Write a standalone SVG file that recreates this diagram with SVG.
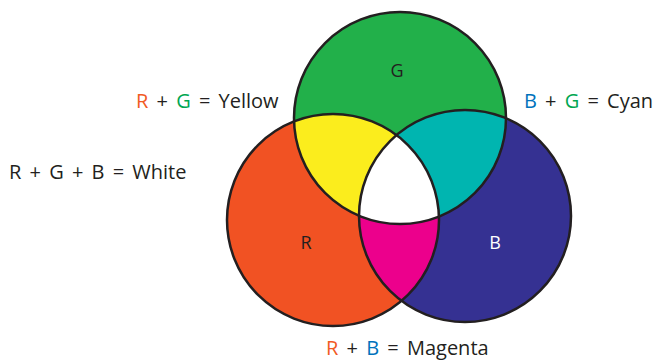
<svg xmlns="http://www.w3.org/2000/svg" width="658" height="361" viewBox="0 0 658 361">
<style>
.t{font-family:"Open Sans","Liberation Sans",sans-serif;font-size:20px;word-spacing:3px;fill:#231f20}
.r{fill:#f15a24}.g{fill:#00a651}.b{fill:#0072bc}
.ring{fill:none;stroke:#231f20;stroke-width:2.5}
.lbl{font-family:"Open Sans","Liberation Sans",sans-serif;font-size:18px;text-anchor:middle}
</style>
<defs>
<clipPath id="cR"><circle cx="333" cy="220" r="106"/></clipPath>
<clipPath id="cG"><circle cx="400" cy="118" r="106"/></clipPath>
<clipPath id="cB"><circle cx="465" cy="216" r="106"/></clipPath>
</defs>
<rect width="658" height="361" fill="#fff"/>
<g id="red"><circle cx="333" cy="220" r="106" fill="#f15223"/></g>
<g id="blue"><circle cx="465" cy="216" r="106" fill="#353192"/></g>
<g id="green"><circle cx="400" cy="118" r="106" fill="#22b04a"/></g>
<g id="yellow" clip-path="url(#cR)"><circle cx="400" cy="118" r="106" fill="#fbed1d"/></g>
<g id="cyan" clip-path="url(#cB)"><circle cx="400" cy="118" r="106" fill="#00b5b0"/></g>
<g id="magenta" clip-path="url(#cR)"><circle cx="465" cy="216" r="106" fill="#ec008c"/></g>
<g id="white" clip-path="url(#cR)"><g clip-path="url(#cB)"><circle cx="400" cy="118" r="106" fill="#fff"/></g></g>
<g id="outlines">
<circle class="ring" cx="333" cy="220" r="106"/>
<circle class="ring" cx="465" cy="216" r="106"/>
<circle class="ring" cx="400" cy="118" r="106"/>
</g>
<g id="circle-labels">
<text class="lbl" x="397" y="77" fill="#231f20">G</text>
<text class="lbl" x="306" y="249" fill="#231f20">R</text>
<text class="lbl" x="495" y="249" fill="#fff">B</text>
</g>
<g id="legend">
<text class="t" x="136" y="108"><tspan class="r">R</tspan> + <tspan class="g">G</tspan> = Yellow</text>
<text class="t" x="9" y="179">R + G + B = White</text>
<text class="t" x="524" y="108"><tspan class="b">B</tspan> + <tspan class="g">G</tspan> = Cyan</text>
<text class="t" x="326" y="355"><tspan class="r">R</tspan> + <tspan class="b">B</tspan> = Magenta</text>
</g>
</svg>
